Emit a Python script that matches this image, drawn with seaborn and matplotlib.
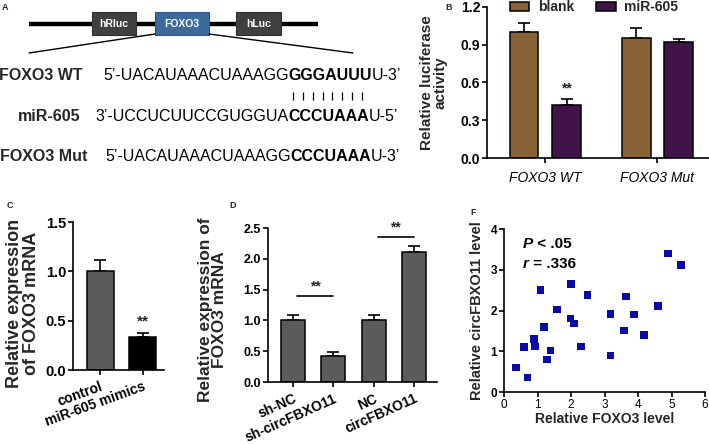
import numpy as np
import pandas as pd
import matplotlib
matplotlib.use("Agg")
import matplotlib.pyplot as plt
import seaborn as sns
from matplotlib.patches import Rectangle

# ---------------- data ----------------
# Panel A (sequence diagram)
construct_boxes = ["hRluc", "FOXO3", "hLuc"]
wt_seq = [("5\u2019-UACAUAAACUAAAGG", "normal"), ("GGGAUUU", "bold"), ("U-3\u2019", "normal")]
mir_seq = [("3\u2019-UCCUCUUCCGUGGUA", "normal"), ("CCCUAAA", "bold"), ("U-5\u2019", "normal")]
mut_seq = [("5\u2019-UACAUAAACUAAAGG", "normal"), ("CCCUAAA", "bold"), ("U-3\u2019", "normal")]

# Panel B
b_groups = ["FOXO3 WT", "FOXO3 Mut"]
b_conditions = ["blank", "miR-605"]
b_blank = [1.00, 0.95]
b_mir = [0.42, 0.92]
b_blank_err = [0.07, 0.08]
b_mir_err = [0.05, 0.025]
b_yticks = [0.0, 0.3, 0.6, 0.9, 1.2]

# Panel C
c_labels = ["control", "miR-605 mimics"]
c_means = [1.00, 0.33]
c_errs = [0.11, 0.05]
c_yticks = [0.0, 0.5, 1.0, 1.5]

# Panel D
d_labels = ["sh-NC", "sh-circFBXO11", "NC", "circFBXO11"]
d_means = [1.00, 0.42, 1.00, 2.11]
d_errs = [0.08, 0.07, 0.08, 0.09]
d_yticks = [0.0, 0.5, 1.0, 1.5, 2.0, 2.5]
d_sig_y = [1.40, 2.35]

# Panel F
f_foxo3 = [0.35, 0.70, 0.60, 0.89, 0.93, 1.09, 1.19, 1.29, 1.39, 1.59, 1.99, 2.00,
           2.09, 2.29, 2.49, 3.18, 3.18, 3.58, 3.64, 3.88, 4.18, 4.59, 4.89, 5.28]
f_circ = [0.60, 0.36, 1.11, 1.30, 1.12, 2.51, 1.60, 0.80, 1.02, 2.02, 1.80, 2.65,
          1.68, 1.12, 2.38, 1.92, 0.90, 1.51, 2.34, 1.90, 1.40, 2.11, 3.40, 3.11]
f_xticks = [0, 1, 2, 3, 4, 5, 6]
f_yticks = [0, 1, 2, 3, 4]

# ---------------- style ----------------
sns.set_theme(style="ticks")
plt.rcParams["font.family"] = ["Liberation Sans", "DejaVu Sans"]
plt.rcParams["axes.linewidth"] = 1.2
plt.rcParams["xtick.major.width"] = 1.2
plt.rcParams["ytick.major.width"] = 1.2
plt.rcParams["xtick.major.size"] = 3.5
plt.rcParams["ytick.major.size"] = 3.5
plt.rcParams["xtick.color"] = "black"
plt.rcParams["ytick.color"] = "black"
plt.rcParams["axes.edgecolor"] = "black"

W, H = 709, 444
fig = plt.figure(figsize=(W / 100, H / 100), dpi=100)


def rect(l, r, t, b):
    return [l / W, 1 - b / H, (r - l) / W, (b - t) / H]


def style_axes(ax, yticks, fmt, size):
    sns.despine(ax=ax)
    ax.set_yticks(yticks, labels=[fmt.format(v) for v in yticks],
                  fontweight="bold", fontsize=size)
    ax.tick_params(axis="y", pad=1.5)
    ax.set_facecolor("none")


def rich(ax, x, y, parts, size, transform=None, style="normal"):
    kw = dict(fontsize=size, color="black")
    t = ax.text(x, y, parts[0][0], fontweight=parts[0][1], va="bottom", ha="left",
                transform=transform if transform is not None else ax.transData,
                fontstyle=parts[0][2] if len(parts[0]) > 2 else style, **kw)
    for p in parts[1:]:
        t = ax.annotate(p[0], xy=(1, 0), xycoords=t, va="bottom", ha="left",
                        fontweight=p[1], fontstyle=p[2] if len(p) > 2 else style, **kw)
    return t


# ---------------- Panel A ----------------
axA = fig.add_axes([0, 0, 1, 1])
axA.set_xlim(0, W)
axA.set_ylim(H, 0)
axA.axis("off")
axA.plot([29, 318], [24, 24], color="black", lw=3.2, solid_capstyle="butt", zorder=1)
box_specs = [(92, 136, "#404040"), (155, 209, "#3d6a9c"), (236, 281, "#404040")]
for (x0, x1, col), name in zip(box_specs, construct_boxes):
    axA.add_patch(Rectangle((x0, 12), x1 - x0, 23, facecolor=col,
                            edgecolor="#2e2e2e" if col == "#404040" else "#2d5586", lw=0.8, zorder=2))
    axA.text((x0 + x1) / 2, 24, name, color="white", ha="center", va="center",
             fontsize=7.5, fontweight="bold", zorder=3)
axA.plot([155, 29], [34, 53], color="black", lw=1.0)
axA.plot([209, 353], [34, 53], color="black", lw=1.0)
axA.text(5, 8, "A", fontsize=6.5, fontweight="bold", va="center", ha="center")

seq_size = 11.5
axA.text(-1, 83, "FOXO3 WT", fontsize=seq_size, fontweight="bold", va="bottom", ha="left")
rich(axA, 103, 83, wt_seq, seq_size)
axA.vlines(np.linspace(293, 362, 8), 92, 100, color="black", lw=0.9)
axA.text(18, 124, "miR-605", fontsize=seq_size, fontweight="bold", va="bottom", ha="left")
rich(axA, 95, 124, mir_seq, seq_size)
axA.text(0, 164, "FOXO3 Mut", fontsize=seq_size, fontweight="bold", va="bottom", ha="left")
rich(axA, 105, 164, mut_seq, seq_size)

# ---------------- Panel B ----------------
axB = fig.add_axes(rect(487, 709, 7, 158))
dfB = pd.DataFrame({
    "group": b_groups * 2,
    "condition": [b_conditions[0]] * 2 + [b_conditions[1]] * 2,
    "value": b_blank + b_mir,
})
sns.barplot(data=dfB, x="group", y="value", hue="condition", order=b_groups,
            hue_order=b_conditions, palette=["#966428", "#470b52"], width=0.76, gap=0.32,
            edgecolor="black", linewidth=1.1, errorbar=None, ax=axB, zorder=2)
for cont, errs in zip(axB.containers, [b_blank_err, b_mir_err]):
    xs = [p.get_x() + p.get_width() / 2 for p in cont.patches]
    ys = [p.get_height() for p in cont.patches]
    axB.errorbar(xs, ys, yerr=[[0] * len(errs), errs], fmt="none", ecolor="black",
                 elinewidth=1.2, capsize=4, capthick=1.2, zorder=1)
mir_bar = axB.containers[1].patches[0]
axB.text(mir_bar.get_x() + mir_bar.get_width() / 2, b_mir[0] + b_mir_err[0] + 0.03, "**",
         ha="center", va="bottom", fontsize=10, fontweight="bold")
axB.set_xlim(-0.52, 1.46)
axB.set_ylim(0, 1.2)
style_axes(axB, b_yticks, "{:.1f}", 10)
axB.set_xticks([0, 1], labels=b_groups, fontstyle="italic", fontsize=10)
axB.tick_params(axis="x", pad=6)
axB.set_xlabel("")
axB.set_ylabel("Relative luciferase\nactivity", fontsize=11, fontweight="bold",
               va="center", linespacing=1.0)
axB.yaxis.set_label_coords(-0.24, 0.5)
handles, labels = axB.get_legend_handles_labels()
axB.legend(handles, labels, ncol=2, loc="center left",
           bbox_to_anchor=(510 / W, 1 - 7 / H), bbox_transform=fig.transFigure,
           frameon=False, prop={"weight": "bold", "size": 10}, handlelength=1.4,
           handleheight=0.6, columnspacing=1.6, handletextpad=0.6, borderpad=0,
           borderaxespad=0)
fig.text(449 / W, 1 - 7 / H, "B", fontsize=6.5, fontweight="bold", va="center", ha="center")

# ---------------- Panel C ----------------
axC = fig.add_axes(rect(73, 164, 222, 370))
dfC = pd.DataFrame({"label": c_labels, "value": c_means})
sns.barplot(data=dfC, x="label", y="value", hue="label", order=c_labels,
            palette=["#5b5b5b", "#000000"], width=0.63, edgecolor="black", linewidth=1.1,
            errorbar=None, legend=False, ax=axC, zorder=2)
xsC = [p.get_x() + p.get_width() / 2 for p in axC.patches]
axC.errorbar(xsC, c_means, yerr=[[0] * len(c_errs), c_errs], fmt="none", ecolor="black",
             elinewidth=1.2, capsize=4, capthick=1.2, zorder=1)
axC.text(xsC[1], c_means[1] + c_errs[1] + 0.04, "**", ha="center", va="bottom",
         fontsize=11, fontweight="bold")
axC.set_xlim(-0.63, 1.49)
axC.set_ylim(0, 1.5)
style_axes(axC, c_yticks, "{:.1f}", 10.5)
axC.set_xticks([0, 1])
axC.set_xticklabels(c_labels, rotation=20, ha="right", rotation_mode="anchor",
                    fontweight="bold", fontsize=10)
axC.set_xlabel("")
axC.set_ylabel("Relative expression\nof FOXO3 mRNA", fontsize=13, fontweight="bold",
               va="center", linespacing=1.0)
axC.yaxis.set_label_coords(-0.55, 0.45)
fig.text(10 / W, 1 - 205 / H, "C", fontsize=6.5, fontweight="bold", va="center", ha="center")

# ---------------- Panel D ----------------
axD = fig.add_axes(rect(268, 437, 228, 382))
dfD = pd.DataFrame({"label": d_labels, "value": d_means})
sns.barplot(data=dfD, x="label", y="value", order=d_labels, color="#5b5b5b",
            saturation=1, width=0.6, edgecolor="black", linewidth=1.1, errorbar=None,
            ax=axD, zorder=2)
xsD = [p.get_x() + p.get_width() / 2 for p in axD.patches]
axD.errorbar(xsD, d_means, yerr=[[0] * len(d_errs), d_errs], fmt="none", ecolor="black",
             elinewidth=1.2, capsize=4, capthick=1.2, zorder=1)
for i, ys in zip([0, 2], d_sig_y):
    axD.plot([i + 0.1, i + 1.0], [ys, ys], color="black", lw=1.2)
    axD.text(i + 0.55, ys + 0.04, "**", ha="center", va="bottom", fontsize=10,
             fontweight="bold")
axD.set_xlim(-0.62, 3.57)
axD.set_ylim(0, 2.5)
style_axes(axD, d_yticks, "{:.1f}", 9)
axD.set_xticks(range(len(d_labels)))
axD.set_xticklabels(d_labels, rotation=24, ha="right", rotation_mode="anchor",
                    fontweight="bold", fontsize=10)
axD.set_xlabel("")
axD.set_ylabel("Relative expression of\nFOXO3 mRNA", fontsize=12.5, fontweight="bold",
               va="center", linespacing=0.95)
axD.yaxis.set_label_coords(-0.33, 0.47)
fig.text(233 / W, 1 - 205 / H, "D", fontsize=6.5, fontweight="bold", va="center", ha="center")

# ---------------- Panel F ----------------
axF = fig.add_axes(rect(504, 705, 229, 392))
dfF = pd.DataFrame({"foxo3": f_foxo3, "circ": f_circ})
sns.scatterplot(data=dfF, x="foxo3", y="circ", marker="s", s=30, color="#0a0aa8",
                edgecolor="none", ax=axF, clip_on=False)
axF.set_xlim(0, 6)
axF.set_ylim(0, 4)
style_axes(axF, f_yticks, "{:d}", 8.5)
axF.set_xticks(f_xticks, labels=[str(v) for v in f_xticks], fontsize=8.5)
axF.tick_params(axis="x", pad=1.5)
axF.set_xlabel("Relative FOXO3 level", fontsize=10, fontweight="bold", va="center")
axF.xaxis.set_label_coords(0.5, -0.165)
axF.set_ylabel("Relative circFBXO11 level", fontsize=10.5, fontweight="bold", va="center")
axF.yaxis.set_label_coords(-0.134, 0.5)
rich(axF, 0.095, 0.865, [("P", "bold", "italic"), (" < .05", "bold", "normal")], 11,
     transform=axF.transAxes)
rich(axF, 0.095, 0.742, [("r", "bold", "italic"), (" = .336", "bold", "normal")], 11,
     transform=axF.transAxes)
fig.text(473 / W, 1 - 212 / H, "F", fontsize=6.5, fontweight="bold", va="center", ha="center")

fig.savefig("out.png", dpi=100)
